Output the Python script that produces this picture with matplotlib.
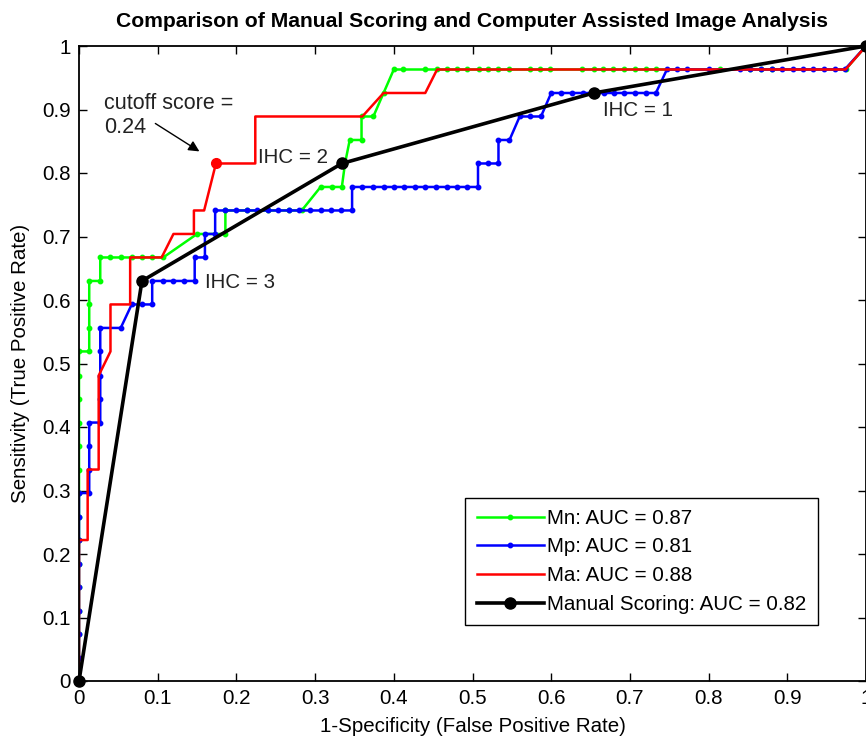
import matplotlib
matplotlib.use("Agg")
import matplotlib.pyplot as plt

plt.rcParams['font.family'] = ['Liberation Sans', 'DejaVu Sans']

# ---- data ----
mn_x = [0, 0, 0, 0, 0, 0, 0, 0, 0, 0, 0, 0, 0, 0, 0,
        0.013, 0.013, 0.013, 0.013, 0.027, 0.027,
        0.040, 0.053, 0.067, 0.080, 0.093, 0.107,
        0.150, 0.186, 0.186, 0.213, 0.240, 0.267, 0.283,
        0.307, 0.321, 0.334, 0.338, 0.344, 0.359, 0.359, 0.374, 0.387, 0.400,
        0.412, 0.440, 0.455, 0.467, 0.480, 0.493, 0.508, 0.520, 0.533, 0.546,
        0.573, 0.586, 0.599, 0.639, 0.654, 0.666, 0.679, 0.692, 0.707, 0.720,
        0.733, 0.815, 0.853, 0.866, 0.880, 0.974, 1.0]
mn_y = [0, 0.037, 0.074, 0.111, 0.148, 0.185, 0.222, 0.259, 0.296, 0.333, 0.370, 0.407, 0.444, 0.481, 0.519,
        0.519, 0.556, 0.593, 0.630, 0.630, 0.667,
        0.667, 0.667, 0.667, 0.667, 0.667, 0.667,
        0.704, 0.704, 0.741, 0.741, 0.741, 0.741, 0.741,
        0.778, 0.778, 0.778, 0.815, 0.852, 0.852, 0.889, 0.889, 0.926, 0.963,
        0.963, 0.963, 0.963, 0.963, 0.963, 0.963, 0.963, 0.963, 0.963, 0.963,
        0.963, 0.963, 0.963, 0.963, 0.963, 0.963, 0.963, 0.963, 0.963, 0.963,
        0.963, 0.963, 0.963, 0.963, 0.963, 0.963, 1.0]

mp_x = [0, 0, 0, 0, 0, 0, 0, 0, 0,
        0.013, 0.013, 0.013, 0.013, 0.027, 0.027, 0.027, 0.027, 0.027,
        0.053, 0.067, 0.080, 0.093, 0.093, 0.107, 0.120, 0.133, 0.147, 0.147,
        0.160, 0.160, 0.173, 0.173,
        0.186, 0.200, 0.213, 0.226, 0.240, 0.253, 0.267, 0.280, 0.293, 0.307,
        0.320, 0.333, 0.347, 0.347,
        0.360, 0.373, 0.387, 0.400, 0.413, 0.427, 0.440, 0.453, 0.467, 0.480,
        0.493, 0.507, 0.507, 0.520, 0.533, 0.533, 0.547, 0.560, 0.573, 0.587,
        0.600, 0.613, 0.627, 0.640, 0.653, 0.667, 0.680, 0.693, 0.707, 0.720,
        0.733, 0.747, 0.760, 0.773, 0.800, 0.840, 0.853, 0.867, 0.880, 0.893,
        0.907, 0.920, 0.933, 0.947, 0.960, 0.973, 1.0]
mp_y = [0, 0.037, 0.074, 0.111, 0.148, 0.185, 0.222, 0.259, 0.296,
        0.296, 0.333, 0.370, 0.407, 0.407, 0.444, 0.481, 0.519, 0.556,
        0.556, 0.593, 0.593, 0.593, 0.630, 0.630, 0.630, 0.630, 0.630, 0.667,
        0.667, 0.704, 0.704, 0.741,
        0.741, 0.741, 0.741, 0.741, 0.741, 0.741, 0.741, 0.741, 0.741, 0.741,
        0.741, 0.741, 0.741, 0.778,
        0.778, 0.778, 0.778, 0.778, 0.778, 0.778, 0.778, 0.778, 0.778, 0.778,
        0.778, 0.778, 0.815, 0.815, 0.815, 0.852, 0.852, 0.889, 0.889, 0.889,
        0.926, 0.926, 0.926, 0.926, 0.926, 0.926, 0.926, 0.926, 0.926, 0.926,
        0.926, 0.963, 0.963, 0.963, 0.963, 0.963, 0.963, 0.963, 0.963, 0.963,
        0.963, 0.963, 0.963, 0.963, 0.963, 0.963, 1.0]

ma_x = [0, 0, 0.011, 0.011, 0.025, 0.025, 0.040, 0.040, 0.065, 0.065, 0.105,
        0.120, 0.146, 0.146, 0.159, 0.174, 0.224, 0.224, 0.360, 0.387, 0.440,
        0.455, 0.974, 1.0]
ma_y = [0, 0.222, 0.222, 0.333, 0.333, 0.481, 0.519, 0.593, 0.593, 0.667, 0.667,
        0.704, 0.704, 0.741, 0.741, 0.815, 0.815, 0.889, 0.889, 0.926, 0.926,
        0.963, 0.963, 1.0]

manual_x = [0, 0.080, 0.334, 0.654, 1.0]
manual_y = [0, 0.630, 0.815, 0.926, 1.0]

cutoff_x = [0.174]
cutoff_y = [0.815]

ihc_labels = ['IHC = 3', 'IHC = 2', 'IHC = 1']
ihc_x = [0.160, 0.228, 0.666]
ihc_y = [0.627, 0.825, 0.898]

legend_labels = ['Mn: AUC = 0.87', 'Mp: AUC = 0.81', 'Ma: AUC = 0.88',
                 'Manual Scoring: AUC = 0.82']
ticks = [0, 0.1, 0.2, 0.3, 0.4, 0.5, 0.6, 0.7, 0.8, 0.9, 1]
tick_labels = ['0', '0.1', '0.2', '0.3', '0.4', '0.5', '0.6', '0.7', '0.8', '0.9', '1']

# ---- figure ----
W, H = 866, 736
fig = plt.figure(figsize=(W / 100, H / 100), dpi=100)
ax = fig.add_axes([79 / W, 55 / H, 787 / W, 635 / H])

fs = 14.8

l1, = ax.plot(mn_x, mn_y, color=(0, 1, 0), lw=1.8, marker='o', ms=3.2,
              mec=(0, 1, 0), mfc=(0, 1, 0), label=legend_labels[0])
l2, = ax.plot(mp_x, mp_y, color=(0, 0, 1), lw=1.8, marker='o', ms=3.2,
              mec=(0, 0, 1), mfc=(0, 0, 1), label=legend_labels[1])
l3, = ax.plot(ma_x, ma_y, color=(1, 0, 0), lw=1.8, label=legend_labels[2])
ax.plot(cutoff_x, cutoff_y, 'o', color=(1, 0, 0), ms=7)
l4, = ax.plot(manual_x, manual_y, color='black', lw=2.6, marker='o', ms=8,
              label=legend_labels[3], clip_on=False, zorder=5)

for t, x, y in zip(ihc_labels, ihc_x, ihc_y):
    ax.text(x, y, t, fontsize=fs, ha='left', va='center', color='#222222')

ax.text(0.032, 0.910, 'cutoff score =', fontsize=15.5, ha='left', va='center', color='#222222')
ax.text(0.032, 0.872, '0.24', fontsize=15.5, ha='left', va='center', color='#222222')
ax.annotate('', xy=(0.153, 0.834), xytext=(0.097, 0.878),
            arrowprops=dict(arrowstyle='-|>', color='black', lw=1.0,
                            mutation_scale=16, shrinkA=0, shrinkB=0))

ax.set_xlim(0, 1)
ax.set_ylim(0, 1)
ax.set_xticks(ticks)
ax.set_xticklabels(tick_labels)
ax.set_yticks(ticks)
ax.set_yticklabels(tick_labels)
ax.tick_params(direction='in', top=True, right=True, length=6, width=1,
               labelsize=fs, pad=6, colors='black')
for s in ax.spines.values():
    s.set_linewidth(1.3)

ax.set_xlabel('1-Specificity (False Positive Rate)', fontsize=fs, labelpad=6)
ax.set_ylabel('Sensitivity (True Positive Rate)', fontsize=fs, labelpad=9)
ax.set_title('Comparison of Manual Scoring and Computer Assisted Image Analysis',
             fontsize=15.2, fontweight='bold', pad=14)

leg = ax.legend(handles=[l1, l2, l3, l4], loc='lower right',
                bbox_to_anchor=(0.939, 0.088), fontsize=fs, numpoints=1,
                handlelength=3.3, handletextpad=0.15, borderpad=0.55,
                labelspacing=0.47, fancybox=False, framealpha=1,
                edgecolor='black', borderaxespad=0)
leg.get_frame().set_linewidth(1.0)

fig.savefig('out.png', dpi=100)
